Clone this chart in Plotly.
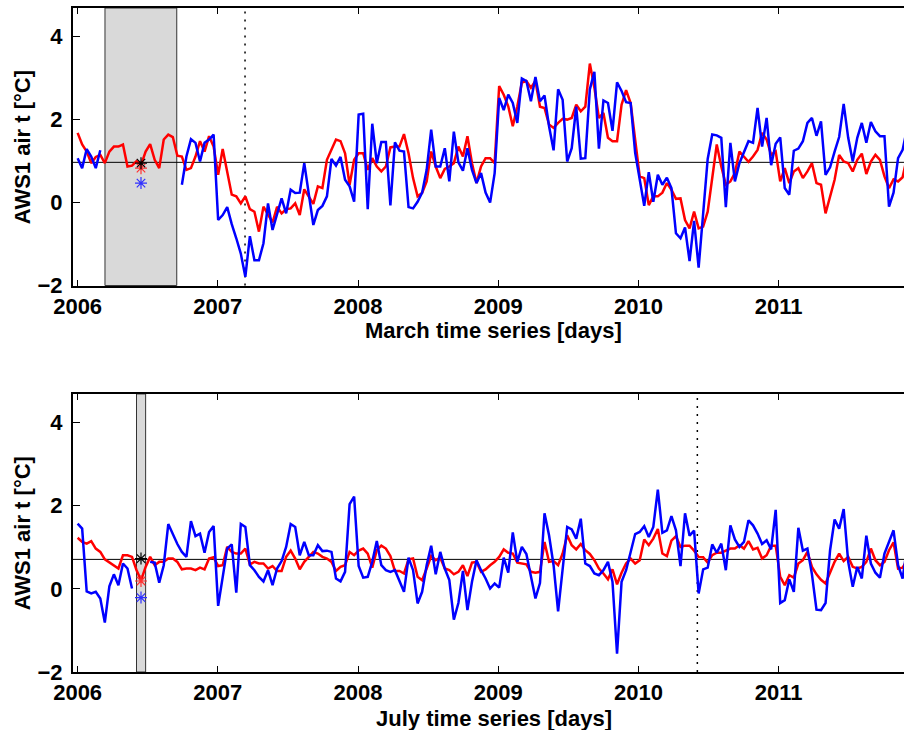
import numpy as np
import plotly.graph_objects as go

# ---------------- data ----------------
t_start = 2006.0
t_step = 0.03233  # sampling interval in years

march_model = [1.68,1.4,1.23,0.95,1.1,1.15,0.95,1.23,1.35,1.35,1.4,0.87,0.89,1.0,0.91,1.23,1.41,1.03,0.83,1.52,
               1.64,1.58,1.13,1.11,0.79,0.83,1.11,1.48,1.23,1.6,1.35,0.67,1.29,0.75,0.19,0.15,-0.02,0.15,-0.16,-0.22,
               -0.7,-0.1,-0.3,-0.48,-0.1,-0.26,-0.16,-0.14,-0.02,-0.3,0.32,0.15,-0.03,0.39,0.35,1.03,1.27,1.52,1.48,1.19,
               0.43,1.03,1.19,
               1.19,0.79,1.07,0.87,0.75,0.87,1.33,1.35,1.35,1.65,1.19,0.59,0.15,0.23,0.51,1.23,0.87,0.59,0.81,0.87,
               0.95,1.35,1.11,1.6,0.95,0.47,0.87,1.07,1.07,0.95,2.81,2.6,2.32,1.84,2.32,2.89,2.93,2.77,2.93,2.31,
               2.28,1.88,1.8,1.92,2.02,2.0,2.04,2.36,2.2,2.31,3.35,2.77,2.04,2.16,1.56,1.48,1.48,2.36,2.71,2.4,
               1.52,0.63,0.59,-0.06,
               0.15,0.15,0.24,0.47,0.31,0.09,0.1,-0.42,-0.62,-0.22,-0.62,-0.58,-0.22,0.63,1.4,0.87,0.43,0.51,0.71,1.23,
               1.11,0.98,1.11,1.27,1.68,1.52,1.15,1.23,0.51,0.83,0.47,0.75,0.83,0.59,0.75,0.95,0.47,0.43,-0.26,0.15,
               0.55,1.15,0.99,0.95,0.75,1.03,1.18,0.69,0.99,1.15,1.03,0.63,0.35,0.56,0.51,0.61,1.11]

march_obs = [1.07,0.83,1.29,1.11,0.83,1.26] + [None] * 17 + \
            [0.43,1.11,1.53,1.44,0.99,1.44,1.52,1.64,-0.42,-0.3,-0.11,-0.52,-0.86,-1.23,-1.79,-0.81,-1.39,-1.39,-0.98,-0.02,
             -0.66,-0.26,0.1,-0.26,0.31,0.23,0.24,0.95,0.23,-0.54,-0.18,-0.08,0.15,1.05,0.89,1.1,0.55,0.39,0.02,2.12,
             2.14,-0.16,1.9,0.95,1.46,1.46,-0.07,1.45,1.25,1.23,-0.11,-0.14,0.02,0.24,0.79,1.76,0.87,0.87,1.31,0.51,
             1.71,0.97,0.77,1.31,0.79,0.47,0.71,0.24,0.0,0.71,2.52,2.23,2.6,2.4,1.92,2.99,2.93,2.44,3.03,2.44,
             2.58,1.84,1.26,2.73,2.48,0.99,1.31,2.31,1.06,1.07,2.73,3.15,1.3,2.46,2.4,1.73,2.9,2.69,2.42,2.4,
             1.2,0.55,-0.08,0.73,
             0.02,0.67,0.43,0.6,0.35,-0.74,-0.86,-0.6,-1.41,-0.44,-1.57,-0.26,1.05,1.64,1.62,1.56,-0.11,1.44,0.51,0.95,
             1.21,1.48,1.44,2.28,1.35,2.04,0.9,1.42,1.57,0.35,0.19,1.25,1.3,1.48,1.92,2.04,1.61,1.96,0.67,0.85,
             1.23,1.58,2.38,1.56,0.99,1.56,1.92,1.44,1.94,1.72,1.6,1.6,-0.1,0.24,1.07,1.27,1.8]

july_model = [1.23,1.13,1.09,1.15,0.97,0.89,0.71,0.63,0.57,0.49,0.81,0.81,0.77,0.45,0.21,0.53,0.77,0.57,0.65,0.65,
              0.73,0.73,0.65,0.47,0.49,0.49,0.45,0.51,0.47,0.73,0.76,0.55,0.57,1.01,0.89,0.85,0.85,0.97,0.59,0.65,
              0.61,0.61,0.49,0.55,0.43,0.43,0.77,0.92,0.73,0.47,0.65,0.77,0.89,0.85,0.77,0.73,0.65,0.43,0.53,0.57,
              0.89,0.81,0.92,
              0.97,0.85,0.51,0.93,1.04,0.97,0.79,0.43,0.43,0.37,0.71,0.73,0.29,0.21,0.49,0.79,0.69,0.75,0.49,0.45,
              0.35,0.41,0.57,0.31,0.63,0.65,0.41,0.47,0.57,0.65,0.77,0.95,0.87,0.85,0.63,0.61,0.59,0.41,0.39,0.41,
              1.13,0.65,0.67,0.57,0.85,1.29,1.05,0.95,1.08,0.93,0.84,0.69,0.49,0.37,0.23,0.47,0.11,0.39,0.61,0.73,
              0.61,0.69,1.19,1.05,
              1.21,1.44,0.85,0.79,1.16,1.27,1.01,1.04,1.04,0.92,0.77,0.76,0.63,0.81,0.87,0.87,0.92,0.97,0.97,1.05,
              0.97,1.15,0.95,0.99,0.73,0.81,1.04,1.04,0.29,0.09,0.33,0.27,0.61,0.69,0.89,0.53,0.35,0.22,0.13,0.39,
              0.65,0.85,0.67,0.77,0.53,0.49,0.53,0.65,0.97,0.69,0.57,0.65,0.93,1.12,0.49,0.51,0.69]

july_obs = [1.57,1.45,-0.06,-0.11,-0.07,-0.23,-0.81,0.06,0.35,0.09,0.61,0.49,0.01] + [None] * 3 + \
           [0.65,0.63,0.15,0.57,1.56,1.32,1.08,0.89,0.77,1.63,1.27,1.33,0.87,1.37,1.51,-0.41,0.29,0.97,1.07,-0.09,
            1.56,1.49,0.57,0.45,0.29,0.18,0.45,0.09,0.49,0.67,1.01,1.56,1.49,0.81,1.13,0.81,0.81,1.05,0.91,0.92,
            0.89,0.25,0.18,0.41,2.04,2.22,0.55,
            0.27,0.29,0.65,1.15,0.57,0.45,0.41,0.45,0.17,-0.07,0.75,0.45,-0.35,-0.07,0.57,1.04,0.35,0.89,0.49,0.21,
            -0.74,-0.34,0.43,-0.51,0.17,0.69,0.45,0.25,0.01,0.13,0.03,0.75,0.39,1.36,0.65,1.01,0.84,0.29,-0.23,0.14,
            1.82,1.29,0.57,-0.54,0.53,1.49,1.43,1.21,1.69,0.61,0.55,0.37,0.33,0.45,0.65,0.17,-1.56,0.17,0.45,0.89,
            1.32,1.37,1.51,1.25,
            1.49,2.39,1.35,1.41,1.75,1.41,0.55,1.82,1.28,1.4,-0.11,0.47,0.51,1.07,0.87,1.09,0.45,1.53,1.19,1.01,
            1.13,1.65,1.53,1.33,1.08,1.17,0.95,1.9,-0.34,-0.27,0.23,-0.07,1.47,0.92,0.97,0.35,-0.5,-0.51,-0.34,0.93,
            1.67,1.45,1.92,0.65,0.05,0.53,0.25,1.28,0.61,0.39,0.27,0.85,1.13,1.41,0.57,0.25,1.01]

march_ref_level = 0.97
july_ref_level = 0.71
march_window = [2006.195, 2006.707]
july_window = [2006.42, 2006.485]
march_event = 2007.194
july_event = 2010.42
star_time = 2006.452
march_stars = {"obs": 0.47, "model": 0.83, "ref": 0.95}
july_stars = {"obs": -0.21, "model": 0.19, "ref": 0.73}

year_ticks = [2006, 2007, 2008, 2009, 2010, 2011]
y_ticks = [-2, 0, 2, 4]
x_range = [2005.967, 2011.894]
y_range = [-2, 4.69]

x_titles = ["March time series [days]", "July time series [days]"]
y_title = "AWS1 air t [°C]"

# ---------------- figure ----------------
def times(series):
    return [t_start + i * t_step for i in range(len(series))]

fig = go.Figure()
panels = [
    ("x", "y", march_model, march_obs, march_stars),
    ("x2", "y2", july_model, july_obs, july_stars),
]
for xa, ya, mod, obs, stars in panels:
    fig.add_trace(go.Scatter(x=times(mod), y=mod, mode="lines", line=dict(color="#ff0000", width=2.5),
                             xaxis=xa, yaxis=ya, showlegend=False, connectgaps=False))
    fig.add_trace(go.Scatter(x=times(obs), y=obs, mode="lines", line=dict(color="#0000ff", width=2.5),
                             xaxis=xa, yaxis=ya, showlegend=False, connectgaps=False))
    for key, col in [("model", "#ff3030"), ("obs", "#3030ff"), ("ref", "#000000")]:
        fig.add_trace(go.Scatter(x=[star_time], y=[stars[key]], mode="markers",
                                 marker=dict(symbol="asterisk-open", size=10, color=col,
                                             line=dict(color=col, width=1.2)),
                                 xaxis=xa, yaxis=ya, showlegend=False))

shapes = []
for xr, yr, win, lvl, ev in [("x", "y", march_window, march_ref_level, march_event),
                             ("x2", "y2", july_window, july_ref_level, july_event)]:
    shapes.append(dict(type="rect", xref=xr, yref=yr + " domain", x0=win[0], x1=win[1], y0=0, y1=1,
                       fillcolor="#d9d9d9", line=dict(color="#333333", width=1), layer="below"))
    shapes.append(dict(type="line", xref=xr + " domain", yref=yr, x0=0, x1=1, y0=lvl, y1=lvl,
                       line=dict(color="black", width=1), layer="below"))
    shapes.append(dict(type="line", xref=xr, yref=yr + " domain", x0=ev, x1=ev, y0=0, y1=1,
                       line=dict(color="black", width=1.5, dash="2px,6px"), layer="below"))

font_b = dict(family="Liberation Sans, Arial, sans-serif", size=22, color="black", weight="bold")

def xaxis(anchor):
    return dict(anchor=anchor, range=x_range, tickvals=year_ticks, ticktext=[str(y) for y in year_ticks],
                ticks="inside", ticklen=6, tickwidth=1, tickcolor="black", showline=True, linecolor="black",
                linewidth=2, mirror="ticks", showgrid=False, zeroline=False, tickfont=font_b,
                ticklabelstandoff=0, automargin=False)

def yaxis(anchor, dom):
    return dict(anchor=anchor, domain=dom, range=y_range, tickvals=y_ticks, ticks="inside", ticklen=7,
                tickwidth=1, tickcolor="black", showline=True, linecolor="black", linewidth=2,
                showgrid=False, zeroline=False, tickfont=font_b, ticklabelstandoff=4, automargin=False)

# titles placed as annotations (paper coordinates)
annotations = [
    dict(text=x_titles[0], xref="paper", yref="paper", x=0.5066, y=0.5145, showarrow=False,
         xanchor="center", yanchor="middle", font=font_b),
    dict(text=x_titles[1], xref="paper", yref="paper", x=0.5066, y=-0.0695, showarrow=False,
         xanchor="center", yanchor="middle", font=font_b),
    dict(text=y_title, xref="paper", yref="paper", x=-0.0608, y=0.791, showarrow=False, textangle=-90,
         xanchor="center", yanchor="middle", font=font_b),
    dict(text=y_title, xref="paper", yref="paper", x=-0.0608, y=0.2095, showarrow=False, textangle=-90,
         xanchor="center", yanchor="middle", font=font_b),
]

fig.update_layout(
    width=904, height=730,
    margin=dict(l=73, r=0, t=8, b=58),
    plot_bgcolor="white", paper_bgcolor="white",
    xaxis=xaxis("y"),
    yaxis=yaxis("x", [0.582, 1.0]),
    xaxis2=xaxis("y2"),
    yaxis2=yaxis("x2", [0.0, 0.4187]),
    shapes=shapes,
    annotations=annotations,
    showlegend=False,
)

fig.write_html("out.html")
